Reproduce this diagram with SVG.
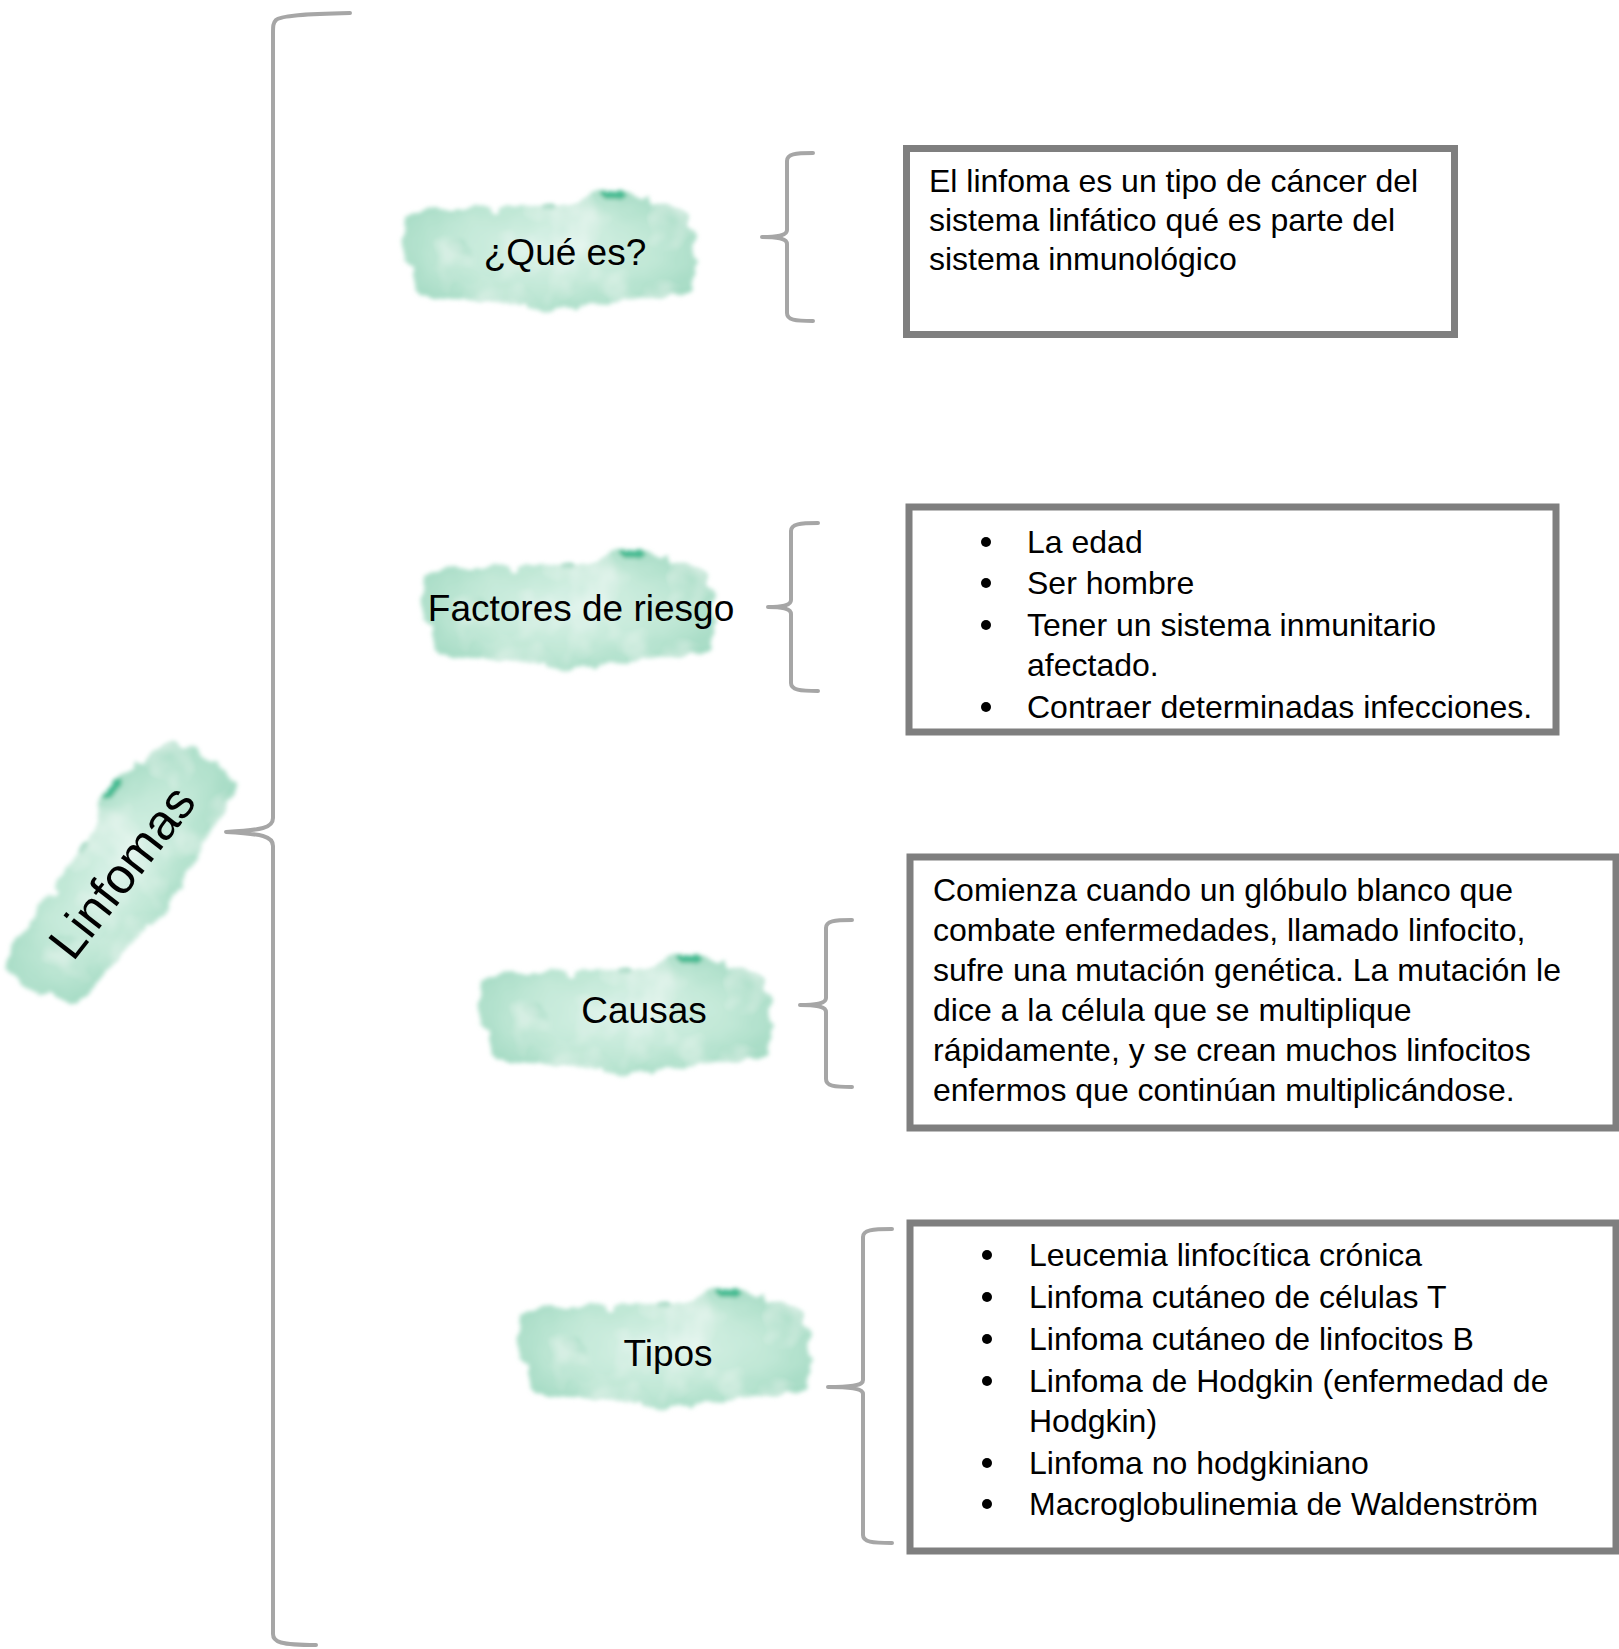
<svg xmlns="http://www.w3.org/2000/svg" xmlns:xlink="http://www.w3.org/1999/xlink" width="1619" height="1649" viewBox="0 0 1619 1649">
<style>
  .brace { fill: none; stroke: #a6a6a6; stroke-width: 4; stroke-linecap: round; stroke-linejoin: round; }
  .box { fill: #ffffff; stroke: #7f7f7f; stroke-width: 7; }
  .t { font-family: "Liberation Sans", Arial, sans-serif; font-size: 32px; fill: #000; }
  .lbl { font-family: "Liberation Sans", Arial, sans-serif; font-size: 37px; fill: #000; text-anchor: middle; }
  .big { font-family: "Liberation Sans", Arial, sans-serif; font-size: 50px; fill: #000; text-anchor: middle; }
  .dot { fill: #000; }
</style>
<defs>
  <radialGradient id="wash" cx="50%" cy="50%" r="62%">
    <stop offset="0%" stop-color="#daf2e8"/>
    <stop offset="55%" stop-color="#c2e8d7"/>
    <stop offset="100%" stop-color="#a0d9c1"/>
  </radialGradient>
  <filter id="wc" x="-15%" y="-30%" width="130%" height="160%">
    <feTurbulence type="fractalNoise" baseFrequency="0.045" numOctaves="4" seed="3" result="n"/>
    <feDisplacementMap in="SourceGraphic" in2="n" scale="18" xChannelSelector="R" yChannelSelector="G" result="d"/>
    <feGaussianBlur in="d" stdDeviation="2" result="b"/>
    <feTurbulence type="fractalNoise" baseFrequency="0.02" numOctaves="3" seed="9" result="n2"/>
    <feColorMatrix in="n2" type="matrix" values="0 0 0 0 1  0 0 0 0 1  0 0 0 0 1  0 0 0 1.2 -0.55" result="light"/>
    <feComposite in="light" in2="b" operator="in" result="lm"/>
    <feMerge><feMergeNode in="b"/><feMergeNode in="lm"/></feMerge>
  </filter>
  <g id="blob">
    <g filter="url(#wc)">
      <path d="M 8,30 C 20,18 60,22 100,20 C 130,16 150,16 175,12 C 190,8 200,4 212,2 C 222,0 228,6 240,12 C 260,16 280,18 290,30 C 296,50 292,80 294,100 C 280,110 250,108 220,112 C 190,116 175,124 155,120 C 130,114 100,116 70,112 C 45,110 25,114 15,100 C 5,80 2,50 8,30 Z" fill="url(#wash)"/>
      <ellipse cx="213" cy="7" rx="11" ry="5" fill="#45bb92"/>
      <ellipse cx="150" cy="17" rx="6" ry="3" fill="#6cc8a6"/>
      <ellipse cx="60" cy="60" rx="12" ry="8" fill="#a8dcc6" opacity="0.5"/>
    </g>
  </g>
</defs>

<g id="connectors">
  <path class="brace" d="M 350,13 C 300,14 280,16 276,20 C 273,23 273,26 273,34 L 273,818 C 273,828 262,830 226,832 C 262,834 273,836 273,846 L 273,1634 C 273,1642 280,1645 316,1645"/>
  <path class="brace" d="M 813,153 C 795,153 787,154 787,161 L 787,230 C 787,235 780,237 762,237 C 780,237 787,239 787,244 L 787,313 C 787,320 795,321 813,321"/>
  <path class="brace" d="M 818,523 C 800,523 791,524 791,531 L 791,600 C 791,605 784,607 768,607 C 784,607 791,609 791,614 L 791,683 C 791,690 800,691 818,691"/>
  <path class="brace" d="M 852,920 C 834,920 826,921 826,928 L 826,998 C 826,1003 819,1005 800,1005 C 819,1005 826,1007 826,1012 L 826,1079 C 826,1086 834,1087 852,1087"/>
  <path class="brace" d="M 892,1229 C 872,1229 863,1230 863,1237 L 863,1380 C 863,1385 855,1387 828,1387 C 855,1387 863,1389 863,1394 L 863,1535 C 863,1542 872,1543 892,1543"/>
</g>

<g id="node-linfomas">
  <use xlink:href="#blob" href="#blob" transform="translate(117,875) rotate(-53) translate(-147,-62)"/>
  <text class="big" transform="translate(122,872) rotate(-52)" x="0" y="17">Linfomas</text>
</g>

<g id="node-que-es">
  <use xlink:href="#blob" href="#blob" transform="translate(400,188)"/>
  <text class="lbl" x="565" y="265">¿Qué es?</text>
</g>

<g id="node-factores">
  <use xlink:href="#blob" href="#blob" transform="translate(419,547)"/>
  <text class="lbl" x="581" y="621">Factores de riesgo</text>
</g>

<g id="node-causas">
  <use xlink:href="#blob" href="#blob" transform="translate(476,952)"/>
  <text class="lbl" x="644" y="1023">Causas</text>
</g>

<g id="node-tipos">
  <use xlink:href="#blob" href="#blob" transform="translate(515,1286)"/>
  <text class="lbl" x="668" y="1366">Tipos</text>
</g>

<g id="box-que-es">
  <rect class="box" x="906.5" y="148.5" width="548" height="186"/>
  <text class="t" x="929" y="192">El linfoma es un tipo de cáncer del</text>
  <text class="t" x="929" y="231">sistema linfático qué es parte del</text>
  <text class="t" x="929" y="270">sistema inmunológico</text>
</g>

<g id="box-factores">
  <rect class="box" x="909" y="507" width="647" height="225"/>
  <circle class="dot" cx="986" cy="542" r="5"/>
  <text class="t" x="1027" y="553">La edad</text>
  <circle class="dot" cx="986" cy="583" r="5"/>
  <text class="t" x="1027" y="594">Ser hombre</text>
  <circle class="dot" cx="986" cy="625" r="5"/>
  <text class="t" x="1027" y="636">Tener un sistema inmunitario</text>
  <text class="t" x="1027" y="676">afectado.</text>
  <circle class="dot" cx="986" cy="707" r="5"/>
  <text class="t" x="1027" y="718">Contraer determinadas infecciones.</text>
</g>

<g id="box-causas">
  <rect class="box" x="910" y="857" width="706" height="271"/>
  <text class="t" x="933" y="901">Comienza cuando un glóbulo blanco que</text>
  <text class="t" x="933" y="941">combate enfermedades, llamado linfocito,</text>
  <text class="t" x="933" y="981">sufre una mutación genética. La mutación le</text>
  <text class="t" x="933" y="1021">dice a la célula que se multiplique</text>
  <text class="t" x="933" y="1061">rápidamente, y se crean muchos linfocitos</text>
  <text class="t" x="933" y="1101">enfermos que continúan multiplicándose.</text>
</g>

<g id="box-tipos">
  <rect class="box" x="910" y="1223" width="706" height="328"/>
  <circle class="dot" cx="987" cy="1255" r="5"/>
  <text class="t" x="1029" y="1266">Leucemia linfocítica crónica</text>
  <circle class="dot" cx="987" cy="1297" r="5"/>
  <text class="t" x="1029" y="1308">Linfoma cutáneo de células T</text>
  <circle class="dot" cx="987" cy="1339" r="5"/>
  <text class="t" x="1029" y="1350">Linfoma cutáneo de linfocitos B</text>
  <circle class="dot" cx="987" cy="1381" r="5"/>
  <text class="t" x="1029" y="1392">Linfoma de Hodgkin (enfermedad de</text>
  <text class="t" x="1029" y="1432">Hodgkin)</text>
  <circle class="dot" cx="987" cy="1463" r="5"/>
  <text class="t" x="1029" y="1474">Linfoma no hodgkiniano</text>
  <circle class="dot" cx="987" cy="1504" r="5"/>
  <text class="t" x="1029" y="1515">Macroglobulinemia de Waldenström</text>
</g>
</svg>
